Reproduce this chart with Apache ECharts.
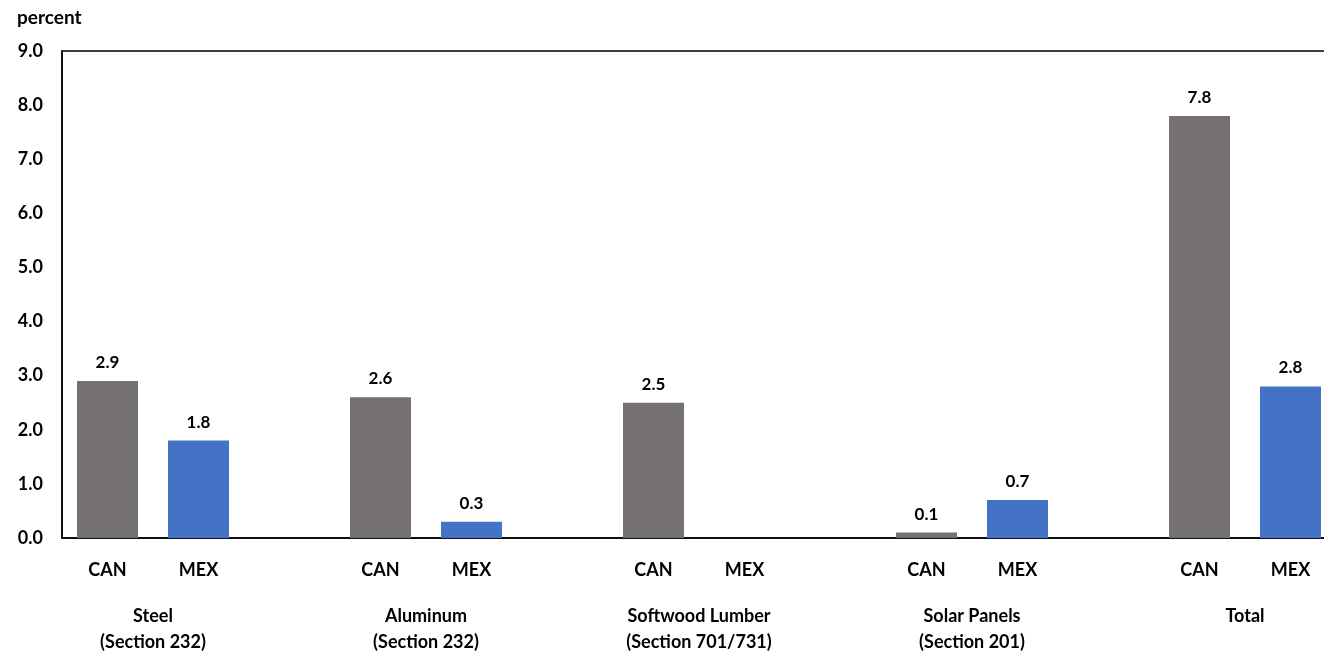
<!DOCTYPE html>
<html>
<head>
<meta charset="utf-8">
<script src="https://cdn.jsdelivr.net/npm/echarts@6/dist/echarts.min.js"></script>
<style>
    html, body { margin: 0; padding: 0; background: #fff; overflow: hidden; }
    #chart { width: 1324px; height: 655px; }
</style>
</head>
<body>
<div id="chart"></div>
<script>
// one slot per bar, blank slot between groups
var barLabels = ['CAN', 'MEX', '', 'CAN', 'MEX', '', 'CAN', 'MEX', '', 'CAN', 'MEX', '', 'CAN', 'MEX'];
var barValues = [2.9, 1.8, null, 2.6, 0.3, null, 2.5, null, null, 0.1, 0.7, null, 7.8, 2.8];
var groupNames = ['Steel', 'Aluminum', 'Softwood Lumber', 'Solar Panels', 'Total'];
var groupSections = ['(Section 232)', '(Section 232)', '(Section 701/731)', '(Section 201)', ''];
var yTicks = [0, 1, 2, 3, 4, 5, 6, 7, 8, 9];

var GRAY = '#767171';
var BLUE = '#4472C4';
var FONT = 'Lato, "Open Sans", sans-serif';

var chart = echarts.init(document.getElementById('chart'));

var barData = barValues.map(function (v, i) {
    return {
        value: v,
        itemStyle: { color: barLabels[i] === 'MEX' ? BLUE : GRAY }
    };
});

var option = {
    animation: false,
    title: {
        text: 'percent',
        left: 12,
        top: 3,
        textStyle: { fontFamily: FONT, fontWeight: 'bold', fontSize: 19, color: '#000' }
    },
    grid: {
        left: 62,
        top: 51,
        width: 1274,
        height: 487,
        outerBoundsMode: 'none',
        containLabel: false,
        show: true,
        borderColor: '#000',
        borderWidth: 1.5,
        backgroundColor: 'transparent'
    },
    xAxis: [
        {
            type: 'category',
            data: barLabels,
            axisLine: { lineStyle: { color: '#000', width: 1.5 } },
            axisTick: { show: false },
            axisLabel: {
                interval: 0,
                margin: 23,
                fontFamily: FONT,
                fontWeight: 'bold',
                fontSize: 18,
                color: '#000'
            }
        },
        {
            type: 'value',
            position: 'bottom',
            min: 0,
            max: 14,
            interval: 1,
            axisLine: { show: false },
            axisTick: { show: false },
            splitLine: { show: false },
            axisLabel: {
                margin: 65,
                showMinLabel: false,
                showMaxLabel: false,
                fontFamily: FONT,
                fontWeight: 'bold',
                fontSize: 18,
                lineHeight: 26,
                color: '#000',
                formatter: function (v) {
                    if ((v - 1) % 3 !== 0) return '';
                    var g = (v - 1) / 3;
                    return groupSections[g] ? groupNames[g] + '\n' + groupSections[g] : groupNames[g];
                }
            }
        }
    ],
    yAxis: {
        type: 'value',
        min: yTicks[0],
        max: yTicks[yTicks.length - 1],
        interval: 1,
        axisLine: { show: true, lineStyle: { color: '#000', width: 1.5 } },
        axisTick: { show: false },
        splitLine: { show: false },
        axisLabel: {
            margin: 19,
            fontFamily: FONT,
            fontWeight: 'bold',
            fontSize: 18,
            color: '#000',
            formatter: function (v) { return v.toFixed(1); }
        }
    },
    series: [{
        type: 'bar',
        xAxisIndex: 0,
        data: barData,
        barWidth: 61,
        label: {
            show: true,
            position: 'top',
            distance: 10,
            fontFamily: FONT,
            fontWeight: 'bold',
            fontSize: 17,
            color: '#000',
            formatter: function (p) { return p.value == null ? '' : p.value.toFixed(1); }
        }
    }]
};

chart.setOption(option);
</script>
</body>
</html>
